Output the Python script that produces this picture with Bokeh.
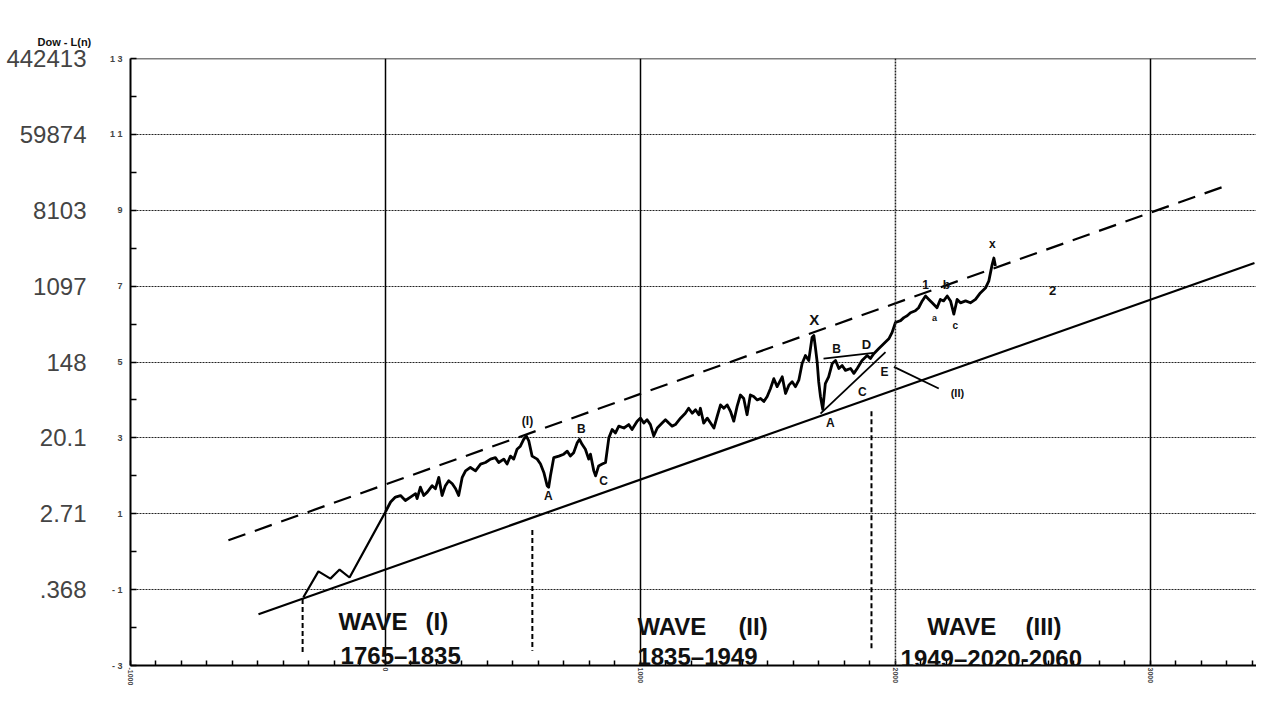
from bokeh.plotting import figure
from bokeh.models import Range1d, LinearAxis, FixedTicker, Span, Label, Title
from bokeh.embed import file_html
from bokeh.resources import INLINE

# x: months since Jan 1790, y: natural log of the Dow
early_month = [-322, -263, -216, -180, -141, 0]
early_ln = [-1.20, -0.52, -0.71, -0.47, -0.68, 1.05]

dow_month = [0, 20, 39, 59, 78, 98, 118, 124, 137, 150,
             164, 183, 196, 209, 222, 235, 248, 262, 275, 287,
             301, 314, 333, 353, 373, 392, 412, 431, 444, 464,
             477, 490, 503, 516, 529, 542, 552, 562, 575, 595,
             608, 621, 634, 640, 647, 654, 660, 680, 699, 713,
             725, 738, 752, 761, 771, 784, 797, 804, 817, 824,
             836, 850, 863, 876, 889, 902, 915, 935, 954, 967,
             987, 1000, 1013, 1026, 1039, 1052, 1066, 1085, 1098, 1111,
             1124, 1137, 1157, 1176, 1189, 1203, 1216, 1229, 1235, 1248,
             1262, 1275, 1288, 1301, 1314, 1327, 1340, 1353, 1366, 1379,
             1392, 1405, 1418, 1431, 1444, 1458, 1471, 1484, 1497, 1510,
             1523, 1536, 1556, 1569, 1582, 1595, 1608, 1621, 1634, 1647,
             1660, 1673, 1680, 1686, 1693, 1699, 1706, 1715, 1725, 1738,
             1752, 1765, 1778, 1791, 1804, 1824, 1837, 1850, 1869, 1889,
             1902, 1915, 1934, 1954, 1974, 1987, 2000, 2020, 2033, 2046,
             2059, 2078, 2091, 2105, 2118, 2131, 2144, 2163, 2176, 2189,
             2203, 2216, 2229, 2242, 2255, 2275, 2294, 2314, 2333, 2353,
             2366, 2379, 2386, 2392]
dow_ln = [1.05, 1.31, 1.44, 1.48, 1.35, 1.44, 1.53, 1.40, 1.70, 1.48,
          1.57, 1.74, 1.66, 1.96, 1.48, 1.74, 1.87, 1.79, 1.66, 1.48,
          1.96, 2.13, 2.22, 2.13, 2.31, 2.35, 2.44, 2.48, 2.35, 2.44,
          2.31, 2.52, 2.44, 2.70, 2.78, 2.96, 3.05, 2.92, 2.52, 2.44,
          2.31, 2.09, 1.74, 1.70, 2.00, 2.26, 2.48, 2.52, 2.57, 2.65,
          2.52, 2.61, 2.87, 2.96, 2.83, 2.70, 2.44, 2.57, 2.13, 2.00,
          2.26, 2.31, 2.35, 3.00, 3.22, 3.13, 3.31, 3.26, 3.35, 3.22,
          3.44, 3.52, 3.39, 3.48, 3.35, 3.05, 3.26, 3.39, 3.48, 3.39,
          3.31, 3.35, 3.52, 3.65, 3.78, 3.65, 3.74, 3.61, 3.78, 3.39,
          3.52, 3.39, 3.26, 3.57, 3.87, 3.78, 3.87, 3.70, 3.44, 3.83,
          4.13, 4.04, 3.61, 4.13, 4.09, 4.00, 4.04, 3.96, 4.09, 4.30,
          4.56, 4.35, 4.61, 4.17, 4.39, 4.48, 4.35, 4.52, 4.96, 5.17,
          5.04, 5.65, 5.70, 5.39, 5.00, 4.48, 4.09, 3.75, 4.43, 4.61,
          4.96, 5.04, 4.83, 4.91, 4.78, 4.83, 4.70, 4.83, 5.04, 5.17,
          5.09, 5.22, 5.35, 5.48, 5.61, 5.78, 6.04, 6.09, 6.17, 6.22,
          6.30, 6.35, 6.43, 6.61, 6.74, 6.65, 6.56, 6.43, 6.65, 6.61,
          6.74, 6.61, 6.26, 6.65, 6.56, 6.61, 6.56, 6.65, 6.82, 6.95,
          7.13, 7.56, 7.74, 7.53]

# channel lines
lower_month = [-498, 3408]
lower_ln = [-1.65, 7.61]
upper_month = [-616, 3282]
upper_ln = [0.30, 9.61]
# triangle (wave II) and wave-(II) pointer
tri_top_month = [1718, 1914]
tri_top_ln = [5.09, 5.24]
tri_bot_month = [1706, 1961]
tri_bot_ln = [3.64, 5.26]
pointer_month = [1994, 2170]
pointer_ln = [4.87, 4.30]
# wave dividers
div_month = [-325, 576, 1906]
div_top_ln = [-1.25, 0.57, 3.70]
div_bot_ln = [-2.69, -2.61, -2.56]

# axis ticks
ln_ticks = [-3, -1, 1, 3, 5, 7, 9, 11, 13]
ln_minor = [-2, 0, 2, 4, 6, 8, 10, 12]
ln_labels = ["- 3", "- 1", "1", "3", "5", "7", "9", "1 1", "1 3"]
dow_labels = ["", ".368", "2.71", "20.1", "148", "1097", "8103", "59874", "442413"]
month_ticks = [-1000, 0, 1000, 2000, 3000]
month_labels = ["-1000", "0", "1000", "2000", "3000"]

# annotations
note_text = ["(I)", "A", "B", "C", "X", "A", "B", "C", "D", "E", "(II)", "1", "b", "a", "c", "x", "2"]
note_month = [557, 639, 768, 855, 1682, 1745, 1769, 1870, 1886, 1957, 2243, 2118, 2200, 2153, 2235, 2380, 2616]
note_ln = [3.44, 1.48, 3.23, 1.87, 6.12, 3.38, 5.34, 4.22, 5.47, 4.74, 4.17, 7.03, 7.03, 6.15, 5.96, 8.10, 6.88]
note_size = ["12px", "12px", "12px", "12px", "15px", "12px", "12px", "12px", "13px", "12px", "11px",
             "12px", "12px", "9px", "10px", "12px", "13px"]

wave_text = ["WAVE", "(I)", "1765\u20131835", "WAVE", "(II)", "1835\u20131949",
             "WAVE", "(III)", "1949\u20132020-2060"]
wave_month = [-184, 157, -176, 988, 1384, 988, 2125, 2510, 2020]
wave_ln = [-1.85, -1.85, -2.74, -1.96, -1.96, -2.77, -1.98, -1.98, -2.82]

FONT = "Liberation Sans"

p = figure(width=1256, height=688, x_range=Range1d(-1000, 3416), y_range=Range1d(-3, 13),
           output_backend="svg", toolbar_location=None,
           min_border_left=130, min_border_right=0, min_border_top=58, min_border_bottom=22)
p.outline_line_color = None
p.background_fill_color = "white"
p.border_fill_color = "white"

# title at the top-left (added first = outermost), then an invisible spacer next to the frame
p.add_layout(Title(text="Dow - L(n)", align="left", offset=-93, standoff=22,
                   text_font=FONT, text_font_size="11px", text_font_style="bold",
                   text_color="#111111"), "above")
p.add_layout(Title(text=".", text_font=FONT, text_font_size="10px", text_alpha=0, standoff=6), "above")

# x axis
xa = p.xaxis[0]
xa.ticker = FixedTicker(ticks=month_ticks, minor_ticks=list(range(-1000, 3416, 100)))
xa.major_label_overrides = {t: l for t, l in zip(month_ticks, month_labels)}
xa.major_label_orientation = "vertical"
xa.major_label_text_font = FONT
xa.major_label_text_font_size = "7px"
xa.major_label_text_font_style = "bold"
xa.major_label_standoff = 2
xa.axis_line_width = 2
xa.axis_line_color = "black"
xa.major_tick_in = 0
xa.major_tick_out = 0
xa.minor_tick_in = 5
xa.minor_tick_out = 0
xa.minor_tick_line_width = 1.5

# inner y axis (ln values)
ya = p.yaxis[0]
ya.ticker = FixedTicker(ticks=ln_ticks, minor_ticks=ln_minor)
ya.major_label_overrides = {t: l for t, l in zip(ln_ticks, ln_labels)}
ya.major_label_text_font = FONT
ya.major_label_text_font_size = "9px"
ya.major_label_text_font_style = "bold"
ya.major_label_standoff = 8
ya.axis_line_width = 2
ya.axis_line_color = "black"
ya.major_tick_in = 6
ya.major_tick_out = 0
ya.minor_tick_in = 6
ya.minor_tick_out = 0
ya.major_tick_line_width = 1.5
ya.minor_tick_line_width = 1.5

# outer y axis (Dow values)
yb = LinearAxis(ticker=FixedTicker(ticks=ln_ticks, minor_ticks=[]))
yb.major_label_overrides = {t: l for t, l in zip(ln_ticks, dow_labels)}
yb.major_label_text_font = FONT
yb.major_label_text_font_size = "24px"
yb.major_label_standoff = 14
yb.axis_line_color = None
yb.major_tick_line_color = None
yb.minor_tick_line_color = None
p.add_layout(yb, "left")

# grids
p.xgrid.ticker = FixedTicker(ticks=[0, 1000, 3000])
p.xgrid.grid_line_color = "black"
p.xgrid.grid_line_width = 1.5
p.ygrid.ticker = FixedTicker(ticks=[-1, 1, 3, 5, 7, 9, 11])
p.ygrid.grid_line_color = "#222222"
p.ygrid.grid_line_width = 1.2
p.ygrid.grid_line_dash = "2 1"
p.add_layout(Span(location=2000, dimension="height", line_color="#222222", line_width=1.5, line_dash="2 1"))
p.add_layout(Span(location=13, dimension="width", line_color="black", line_width=1.5))

# lines
p.line(lower_month, lower_ln, line_color="black", line_width=2.2)
p.line(upper_month, upper_ln, line_color="black", line_width=2.2, line_dash="18 10")
p.line(tri_top_month, tri_top_ln, line_color="black", line_width=1.8)
p.line(tri_bot_month, tri_bot_ln, line_color="black", line_width=1.8)
p.line(pointer_month, pointer_ln, line_color="black", line_width=1.8)
p.segment(x0=div_month, y0=div_top_ln, x1=div_month, y1=div_bot_ln,
          line_color="black", line_width=2, line_dash="5 3")
p.line(early_month, early_ln, line_color="black", line_width=2.2)
p.line(dow_month, dow_ln, line_color="black", line_width=2.8, line_join="round")

# annotations
for t, m, v, s in zip(note_text, note_month, note_ln, note_size):
    p.add_layout(Label(x=m, y=v, text=t, text_font=FONT, text_font_size=s,
                       text_font_style="bold", text_align="center", text_baseline="middle",
                       text_color="#111111"))
for t, m, v in zip(wave_text, wave_month, wave_ln):
    p.add_layout(Label(x=m, y=v, text=t, text_font=FONT, text_font_size="24px",
                       text_font_style="bold", text_align="left", text_baseline="alphabetic",
                       text_color="#111111"))

open("out.html", "w").write(file_html(p, INLINE))
